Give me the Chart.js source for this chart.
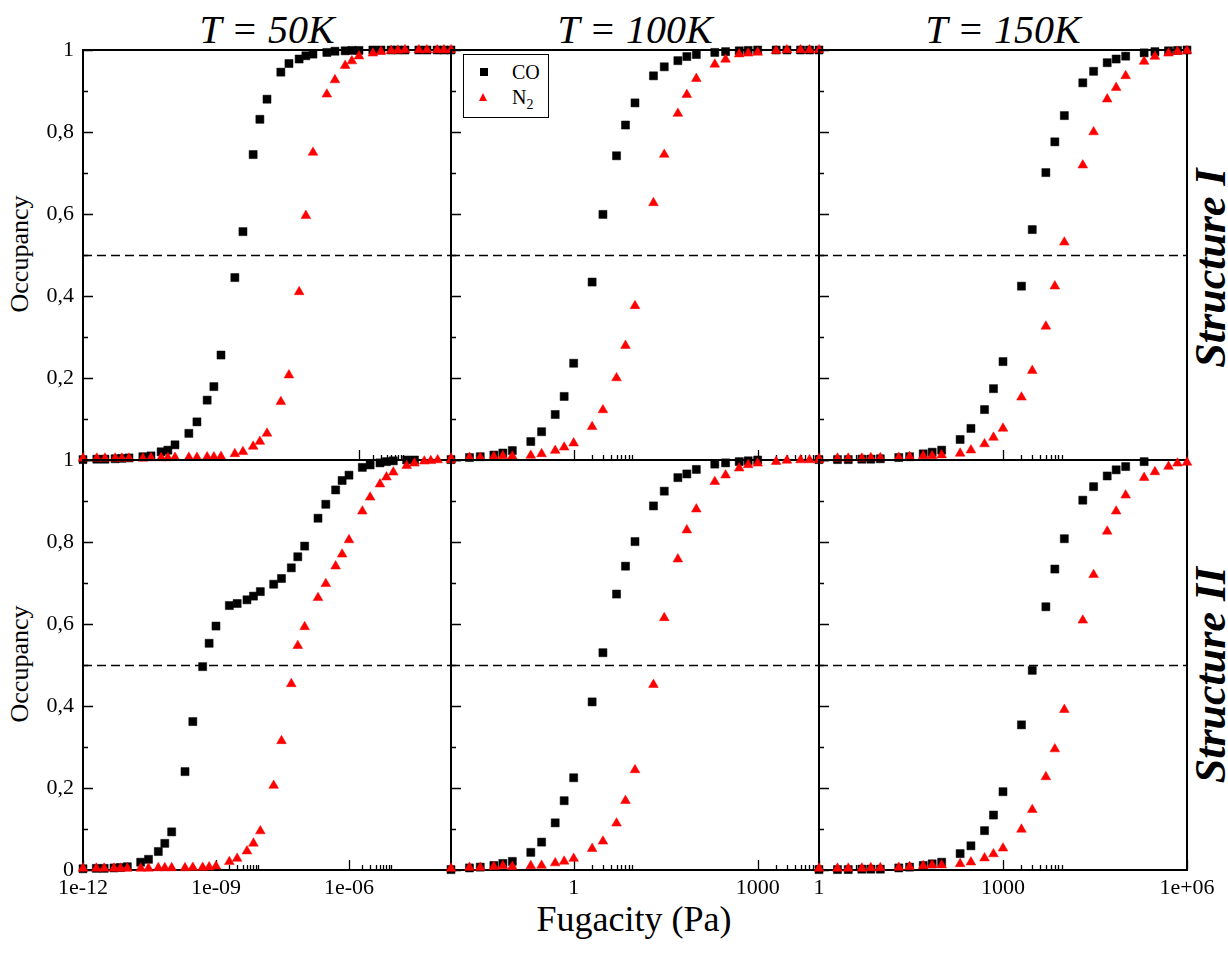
<!DOCTYPE html>
<html>
<head>
<meta charset="utf-8">
<script src="https://cdn.jsdelivr.net/npm/chart.js@4.4.1/dist/chart.umd.min.js"></script>
<style>
  body { margin: 0; background: #fff; }
  #page { position: relative; width: 1228px; height: 954px; overflow: hidden; font-family: "Liberation Serif", "Times New Roman", serif; color: #000; }
  .panel { position: absolute; }
  .title { position: absolute; top: 10px; width: 368px; text-align: center; font-style: italic; font-size: 40px; line-height: 40px; }
  .ylab { position: absolute; font-size: 26px; line-height: 26px; white-space: nowrap; transform: translate(-50%, -50%) rotate(-90deg); }
  .struct { position: absolute; font-size: 44px; line-height: 44px; font-weight: bold; font-style: italic; white-space: nowrap; transform: translate(-50%, -50%) rotate(-90deg); }
  #xlab { position: absolute; left: 434px; top: 901px; width: 400px; text-align: center; font-size: 36px; line-height: 36px; }
  #legend { position: absolute; left: 463px; top: 54px; width: 84px; height: 62px; border: 1.5px solid #000; background: #fff; z-index: 5; }
  #legend .sq { position: absolute; left: 16px; top: 13px; width: 8px; height: 8px; background: #000; }
  #legend .tri { position: absolute; left: 15px; top: 38px; width: 0; height: 0; border-left: 4.5px solid transparent; border-right: 4.5px solid transparent; border-bottom: 8px solid #ff0000; }
  #legend .txt { position: absolute; left: 48px; font-size: 20px; line-height: 20px; }
  #legend sub { font-size: 14px; vertical-align: -5px; line-height: 0; }
</style>
</head>
<body>
<div id="page">
  <div class="title" style="left:83px">T = 50K</div>
  <div class="title" style="left:451px">T = 100K</div>
  <div class="title" style="left:819px">T = 150K</div>
  <div class="ylab" style="left:20px; top:254px">Occupancy</div>
  <div class="ylab" style="left:20px; top:664px">Occupancy</div>
  <div class="struct" style="left:1211px; top:268px">Structure I</div>
  <div class="struct" style="left:1211px; top:675px">Structure II</div>
  <div id="xlab">Fugacity (Pa)</div>
  <div id="legend">
    <div class="sq"></div><div class="txt" style="top:7px">CO</div>
    <div class="tri"></div><div class="txt" style="top:32px">N<sub>2</sub></div>
  </div>
</div>
<script>
// fugacity grids (Pa)
const F_50K = [1e-12, 2e-12, 3e-12, 5e-12, 7e-12, 1e-11, 2e-11, 3e-11, 5e-11, 7e-11,
  1e-10, 2e-10, 3e-10, 5e-10, 7e-10, 1e-9, 2e-9, 3e-9, 5e-9, 7e-9,
  1e-8, 2e-8, 3e-8, 5e-8, 7e-8, 1e-7, 2e-7, 3e-7, 5e-7, 7e-7,
  1e-6, 2e-6, 3e-6, 5e-6, 7e-6, 1e-5, 2e-5, 3e-5, 5e-5, 7e-5, 1e-4, 2e-4];
const F_100K = [0.01, 0.02, 0.03, 0.05, 0.07, 0.1, 0.2, 0.3, 0.5, 0.7,
  1, 2, 3, 5, 7, 10, 20, 30, 50, 70, 100, 200, 300, 500, 700,
  1000, 2000, 3000, 5000, 7000, 10000];
const F_150K = [1, 2, 3, 5, 7, 10, 20, 30, 50, 70, 100, 200, 300, 500, 700,
  1000, 2000, 3000, 5000, 7000, 1e4, 2e4, 3e4, 5e4, 7e4,
  1e5, 2e5, 3e5, 5e5, 7e5, 1e6];

// occupancies, structure I
const CO_50K_I = [0.001, 0.002, 0.002, 0.003, 0.004, 0.005, 0.008, 0.010, 0.020, 0.024,
  0.037, 0.065, 0.093, 0.146, 0.179, 0.256, 0.445, 0.557, 0.745, 0.831,
  0.880, 0.946, 0.967, 0.978, 0.986, 0.990, 0.994, 0.997, 0.998, 0.999,
  0.999, 1, 1, 1, 1, 1, 1, 1, 1, 1, 1];
const N2_50K_I = [0.004, 0.004, 0.004, 0.004, 0.004, 0.004, 0.004, 0.005, 0.005, 0.005,
  0.006, 0.006, 0.006, 0.007, 0.007, 0.008, 0.015, 0.020, 0.033, 0.045,
  0.065, 0.142, 0.207, 0.410, 0.596, 0.750, 0.892, 0.927, 0.962, 0.973,
  0.985, 0.992, 0.996, 0.998, 0.999, 1, 1, 1, 1, 1, 1];
const CO_100K_I = [0.001, 0.006, 0.008, 0.012, 0.017, 0.023, 0.045, 0.069, 0.111, 0.155,
  0.236, 0.434, 0.599, 0.742, 0.817, 0.871, 0.937, 0.959, 0.974, 0.984,
  0.989, 0.994, 0.996, 0.998, 0.999, 1, 1, 1, 1, 1, 1];
const N2_100K_I = [0.004, 0.006, 0.006, 0.008, 0.010, 0.009, 0.011, 0.015, 0.023, 0.031,
  0.041, 0.081, 0.122, 0.200, 0.279, 0.376, 0.627, 0.745, 0.845, 0.891,
  0.930, 0.965, 0.977, 0.990, 0.992, 0.994, 0.998, 1, 1, 1, 1];
const CO_150K_I = [0.001, 0.001, 0.001, 0.002, 0.002, 0.003, 0.006, 0.008, 0.015, 0.019,
  0.024, 0.050, 0.077, 0.123, 0.174, 0.240, 0.424, 0.562, 0.701, 0.776,
  0.840, 0.920, 0.948, 0.969, 0.978, 0.985, 0.993, 0.996, 0.998, 0.999, 1];
const N2_150K_I = [0.003, 0.004, 0.004, 0.004, 0.005, 0.005, 0.006, 0.008, 0.010, 0.010,
  0.012, 0.016, 0.024, 0.039, 0.055, 0.077, 0.153, 0.218, 0.326, 0.424,
  0.531, 0.719, 0.800, 0.880, 0.908, 0.937, 0.972, 0.984, 0.992, 0.996, 0.998];

// occupancies, structure II
const CO_50K_II = [0.003, 0.004, 0.004, 0.005, 0.006, 0.008, 0.019, 0.026, 0.045, 0.065,
  0.093, 0.240, 0.362, 0.496, 0.553, 0.595, 0.645, 0.650, 0.659, 0.668,
  0.679, 0.697, 0.711, 0.737, 0.764, 0.790, 0.858, 0.892, 0.927, 0.950,
  0.963, 0.982, 0.988, 0.993, 0.996, 0.998, 1, 1];
const N2_50K_II = [0.004, 0.004, 0.004, 0.004, 0.004, 0.004, 0.004, 0.004, 0.005, 0.005,
  0.005, 0.005, 0.006, 0.006, 0.007, 0.009, 0.020, 0.028, 0.046, 0.065,
  0.095, 0.206, 0.315, 0.454, 0.547, 0.593, 0.664, 0.698, 0.741, 0.770,
  0.805, 0.875, 0.909, 0.941, 0.958, 0.970, 0.986, 0.992, 0.997, 0.998, 1, 1];
const CO_100K_II = [0.001, 0.005, 0.007, 0.011, 0.016, 0.021, 0.043, 0.068, 0.115, 0.169,
  0.225, 0.410, 0.530, 0.673, 0.741, 0.801, 0.888, 0.924, 0.957, 0.966,
  0.977, 0.990, 0.993, 0.996, 0.998, 1];
const N2_100K_II = [0.004, 0.006, 0.006, 0.008, 0.010, 0.008, 0.010, 0.011, 0.017, 0.021,
  0.028, 0.052, 0.070, 0.114, 0.169, 0.244, 0.452, 0.615, 0.758, 0.829,
  0.880, 0.947, 0.963, 0.980, 0.988, 0.992, 0.996, 0.999, 1, 1, 1];
const CO_150K_II = [0.001, 0.001, 0.001, 0.002, 0.002, 0.002, 0.005, 0.007, 0.011, 0.015,
  0.019, 0.040, 0.059, 0.096, 0.134, 0.191, 0.354, 0.487, 0.642, 0.734,
  0.808, 0.902, 0.935, 0.961, 0.976, 0.984, 0.996];
const N2_150K_II = [0.004, 0.004, 0.004, 0.004, 0.005, 0.005, 0.006, 0.008, 0.010, 0.012,
  0.012, 0.015, 0.019, 0.029, 0.039, 0.053, 0.099, 0.147, 0.227, 0.295,
  0.391, 0.609, 0.720, 0.826, 0.875, 0.914, 0.957, 0.971, 0.984, 0.992, 0.994];

const HALF = 0.5;

// axis ticks
const Y_TICKS = [0, 0.1, 0.2, 0.3, 0.4, 0.5, 0.6, 0.7, 0.8, 0.9, 1];
const Y_LABELS = ['0', '', '0,2', '', '0,4', '', '0,6', '', '0,8', '', '1'];
const Y_LABELS_TOP = ['', '', '0,2', '', '0,4', '', '0,6', '', '0,8', '', '1'];

const X_TICKS_50K_I = [1e-12, 1e-6, 2e-6, 3e-6, 4e-6, 5e-6, 6e-6, 7e-6, 8e-6, 9e-6];
const X_TICKS_50K_II = [1e-12, 1e-9, 2e-9, 3e-9, 4e-9, 5e-9, 6e-9, 7e-9, 8e-9, 9e-9,
  1e-6, 2e-6, 3e-6, 4e-6, 5e-6, 6e-6, 7e-6, 8e-6, 9e-6];
const X_LABELS_50K = ['1e-12', '1e-09', '', '', '', '', '', '', '', '', '1e-06', '', '', '', '', '', '', '', ''];
const X_TICKS_100K = [1, 2, 3, 4, 5, 6, 7, 8, 9, 1000, 2000, 3000, 4000, 5000, 6000, 7000, 8000, 9000];
const X_LABELS_100K = ['1', '', '', '', '', '', '', '', '', '1000', '', '', '', '', '', '', '', ''];
const X_TICKS_150K = [1, 2, 3, 4, 5, 6, 7, 8, 9, 1000, 2000, 3000, 4000, 5000, 6000, 7000, 8000, 9000, 1e6];
const X_LABELS_150K = ['1', '', '', '', '', '', '', '', '', '1000', '', '', '', '', '', '', '', '', '1e+06'];

const FONT = '"Liberation Serif", "Times New Roman", serif';
const PAD_L = 80, PAD_R = 40, PAD_T = 15, PAD_B = 40;
const PW = 368, PH = 410;

function isMajor(v) {
    const l = Math.log10(v);
    const r = Math.round(l);
    return Math.abs(l - r) < 1e-9 && r % 3 === 0;
}

// frame, inward ticks and the dashed 0.5 line
const framePlugin = {
    id: 'frame',
    beforeDatasetsDraw(chart) {
        const { ctx, chartArea: a, scales: { x, y } } = chart;
        ctx.save();
        ctx.strokeStyle = '#000';

        ctx.lineWidth = 1.3;
        ctx.setLineDash([9, 5]);
        const yh = Math.round(y.getPixelForValue(HALF)) + 0.5;
        ctx.beginPath();
        ctx.moveTo(a.left, yh);
        ctx.lineTo(a.right, yh);
        ctx.stroke();
        ctx.setLineDash([]);

        ctx.beginPath();
        x.ticks.forEach(t => {
            const px = Math.round(x.getPixelForValue(t.value)) + 0.5;
            const len = isMajor(t.value) ? 10 : 5;
            ctx.moveTo(px, a.bottom);
            ctx.lineTo(px, a.bottom - len);
        });
        y.ticks.forEach((t, i) => {
            const py = Math.round(y.getPixelForValue(t.value)) + 0.5;
            const len = i % 2 === 0 ? 10 : 5;
            ctx.moveTo(a.left, py);
            ctx.lineTo(a.left + len, py);
        });
        ctx.stroke();

        ctx.lineWidth = 2;
        ctx.strokeRect(a.left, a.top, a.right - a.left, a.bottom - a.top);
        ctx.restore();
    }
};

function makePanel(p) {
    const canvas = document.createElement('canvas');
    canvas.className = 'panel';
    canvas.width = PW + PAD_L + PAD_R;
    canvas.height = PH + PAD_T + PAD_B;
    canvas.style.left = (p.left - PAD_L) + 'px';
    canvas.style.top = (p.top - PAD_T) + 'px';
    document.getElementById('page').appendChild(canvas);

    const pts = (ys) => ys.map((v, i) => ({ x: p.fug[i], y: v }));

    new Chart(canvas.getContext('2d'), {
        type: 'scatter',
        data: {
            datasets: [
                {
                    label: 'CO', data: pts(p.co), order: 2, clip: false,
                    pointStyle: 'rect', pointRadius: 5.7, pointHoverRadius: 5.7,
                    backgroundColor: '#000', borderColor: '#000', borderWidth: 0.5
                },
                {
                    label: 'N2', data: pts(p.n2), order: 1, clip: false,
                    pointStyle: 'triangle', pointRadius: 5.6, pointHoverRadius: 5.6,
                    backgroundColor: '#ff0000', borderColor: '#ff0000', borderWidth: 0.5
                }
            ]
        },
        options: {
            responsive: false,
            animation: false,
            events: [],
            layout: { padding: { top: PAD_T, right: PAD_R, bottom: 0, left: 0 } },
            plugins: { legend: { display: false }, tooltip: { enabled: false } },
            scales: {
                x: {
                    type: 'logarithmic',
                    min: p.min, max: p.max,
                    afterBuildTicks: s => { s.ticks = p.xTicks.map(v => ({ value: v })); },
                    afterFit: s => { s.height = PAD_B; s.paddingLeft = 0; s.paddingRight = 0; },
                    grid: { display: false, drawTicks: false },
                    border: { display: false },
                    ticks: {
                        display: p.showX, autoSkip: false, maxRotation: 0, minRotation: 0,
                        padding: 5, color: '#000', font: { family: FONT, size: 22 },
                        callback: (v, i) => p.xLabels ? p.xLabels[i] : ''
                    }
                },
                y: {
                    min: 0, max: 1,
                    afterBuildTicks: s => { s.ticks = Y_TICKS.map(v => ({ value: v })); },
                    afterFit: s => { s.width = PAD_L; s.paddingTop = 0; s.paddingBottom = 0; },
                    grid: { display: false, drawTicks: false },
                    border: { display: false },
                    ticks: {
                        display: p.showY, autoSkip: false, padding: 9, color: '#000',
                        font: { family: FONT, size: 22 },
                        callback: (v, i) => p.yLabels[i]
                    }
                }
            }
        },
        plugins: [framePlugin]
    });
}

window.addEventListener('DOMContentLoaded', () => {
    const panels = [
        { left: 83, top: 50, fug: F_50K, co: CO_50K_I, n2: N2_50K_I, min: 1e-12, max: 1e-4,
          xTicks: X_TICKS_50K_I, xLabels: null, yLabels: Y_LABELS_TOP, showX: false, showY: true },
        { left: 451, top: 50, fug: F_100K, co: CO_100K_I, n2: N2_100K_I, min: 0.01, max: 1e4,
          xTicks: X_TICKS_100K, xLabels: null, yLabels: Y_LABELS_TOP, showX: false, showY: false },
        { left: 819, top: 50, fug: F_150K, co: CO_150K_I, n2: N2_150K_I, min: 1, max: 1e6,
          xTicks: X_TICKS_150K, xLabels: null, yLabels: Y_LABELS_TOP, showX: false, showY: false },
        { left: 83, top: 460, fug: F_50K, co: CO_50K_II, n2: N2_50K_II, min: 1e-12, max: 2e-4,
          xTicks: X_TICKS_50K_II, xLabels: X_LABELS_50K, yLabels: Y_LABELS, showX: true, showY: true },
        { left: 451, top: 460, fug: F_100K, co: CO_100K_II, n2: N2_100K_II, min: 0.01, max: 1e4,
          xTicks: X_TICKS_100K, xLabels: X_LABELS_100K, yLabels: Y_LABELS, showX: true, showY: false },
        { left: 819, top: 460, fug: F_150K, co: CO_150K_II, n2: N2_150K_II, min: 1, max: 1e6,
          xTicks: X_TICKS_150K, xLabels: X_LABELS_150K, yLabels: Y_LABELS, showX: true, showY: false }
    ];
    panels.forEach(makePanel);
});
</script>
</body>
</html>
